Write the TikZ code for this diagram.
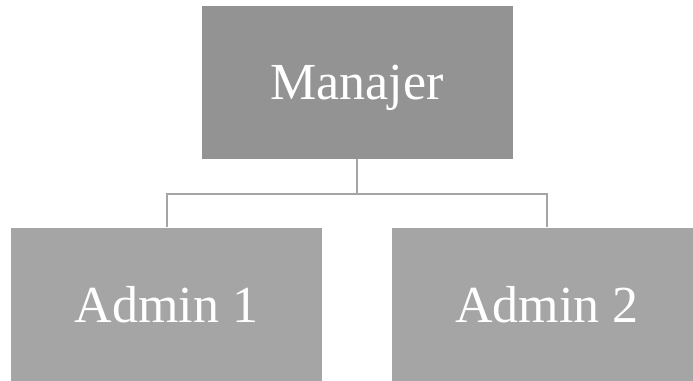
\documentclass[tikz,border=0pt]{standalone}
\usepackage{fontspec}
\usepackage{xcolor}
\usepackage{tikz}
\setmainfont{Liberation Serif}
\definecolor{boss}{HTML}{939393}
\definecolor{staff}{HTML}{A5A5A5}
\definecolor{wire}{HTML}{A5A5A5}
\newcommand{\bigtext}{\fontsize{52}{60}\selectfont}
\tikzset{
    role/.style={rectangle, draw=white, line width=0.6pt, text=white, font=\bigtext,
        minimum width=312pt, minimum height=154pt, inner sep=0pt, text depth=0pt},
    link/.style={draw=wire, line width=2pt}
}

\begin{document}
\begin{tikzpicture}[x=1pt, y=-1pt]

        \useasboundingbox (0,0) rectangle (693,380);

        \node[role, fill=boss] (manajer) at (356.8, 82) {Manajer};
        \node[role, fill=staff] (admin1) at (166.7, 304.5) {Admin 1};
        \node[role, fill=staff] (admin2) at (547, 304.5) {Admin 2};

        \coordinate (fork) at (356.8, 194);

        \draw[link] (manajer.south) -- (fork);
        \draw[link] (admin1.north) |- (fork) -| (admin2.north);

    \end{tikzpicture}
\end{document}
